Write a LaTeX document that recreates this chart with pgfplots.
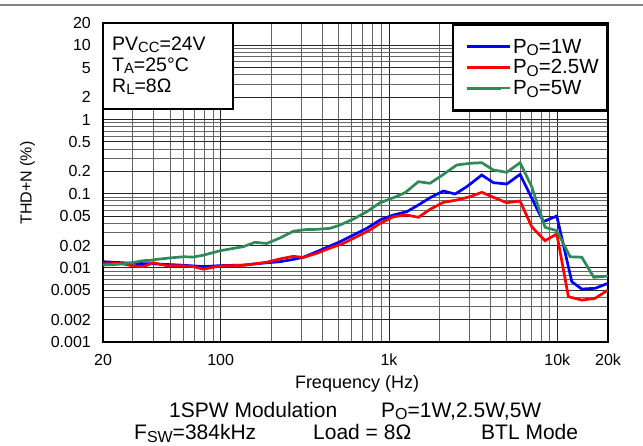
\documentclass[border=0pt]{standalone}
\usepackage{fontspec}
\setmainfont{Liberation Sans}
\usepackage{graphicx}
\usepackage{pgfplots}
\pgfplotsset{compat=1.18}
\definecolor{cblue}{RGB}{0,0,255}
\definecolor{cred}{RGB}{255,0,0}
\definecolor{cgreen}{RGB}{46,139,87}
\newcommand\sub[1]{\raisebox{-0.25ex}{\scalebox{0.76}{#1}}}
\newcommand\subb[1]{\raisebox{-0.18ex}{\scalebox{0.76}{#1}}}
\newcommand\fs[1]{\fontsize{#1}{#1}\selectfont}

\pgfplotstableread{
f v
20 0.0121
30.3 0.0115
39.8 0.0113
57.4 0.0109
78.9 0.0104
99.1 0.0107
136.4 0.0109
187.8 0.0117
225.3 0.0121
270.3 0.0130
309.8 0.0139
372.3 0.0165
446.4 0.0197
511.7 0.0225
614 0.0277
738 0.0341
885 0.0442
1062 0.0516
1275 0.0571
1494 0.0703
1754 0.0882
2104 0.1086
2469 0.0989
2897 0.124
3558 0.1785
4169 0.1406
5008 0.135
6007 0.182
8260 0.0419
9926 0.0500
12190 0.0065
13970 0.00518
16770 0.0053
20000 0.00618
}\blue

\pgfplotstableread{
f v
20 0.0113
25.2 0.0115
30.3 0.0106
34.7 0.0104
39.8 0.0117
47.8 0.0107
57.4 0.0107
68.8 0.0104
78.9 0.0096
99.1 0.0106
136.4 0.0108
187.8 0.0119
225.3 0.0132
270.3 0.0143
309.8 0.0138
372.3 0.0157
436 0.0181
535.6 0.0214
643 0.0263
772 0.0324
885 0.0398
1062 0.0489
1275 0.0516
1494 0.0480
1754 0.0615
2104 0.0764
2527 0.0821
3031 0.0910
3558 0.1043
4169 0.0893
5008 0.0755
6007 0.0796
7047 0.0358
8453 0.0232
9926 0.0286
11640 0.00408
13970 0.00368
16770 0.00388
20000 0.00502
}\red

\pgfplotstableread{
f v
20 0.0109
25.2 0.0112
30.3 0.0118
34.7 0.0125
38.0 0.0126
41.7 0.0130
50.0 0.0136
60.0 0.0141
68.8 0.0140
78.9 0.0148
99.1 0.0170
118.9 0.0183
136.4 0.0193
160 0.0221
187.8 0.0213
225.3 0.0253
270.3 0.0312
324.6 0.0329
372.3 0.0330
446.4 0.0341
511.7 0.0378
614 0.0455
738 0.0571
885 0.0755
1062 0.0882
1246 0.1030
1494 0.1450
1754 0.1379
2104 0.182
2527 0.2435
3031 0.2567
3558 0.2615
4169 0.2084
5008 0.1941
6007 0.2615
7047 0.124
8453 0.0352
9926 0.0317
11910 0.0141
13970 0.0139
16470 0.00745
20000 0.00776
}\green

\begin{document}
\begin{tikzpicture}
\useasboundingbox (0,0) rectangle (643pt,445pt);
\draw[black!50, line width=2pt] (0,440pt) -- (643pt,440pt);
\begin{axis}[
  at={(103pt,103pt)}, anchor=south west,
  scale only axis, width=505pt, height=319pt,
  xmode=log, ymode=log,
  xmin=20, xmax=20000, ymin=0.001, ymax=20,
  xtick={20,100,1000,10000,20000},
  xticklabels={20,100,1k,10k,20k},
  minor xtick={30,40,50,60,70,80,90,200,300,400,500,600,700,800,900,2000,3000,4000,5000,6000,7000,8000,9000},
  ytick={0.001,0.002,0.005,0.01,0.02,0.05,0.1,0.2,0.5,1,2,5,10,20},
  yticklabels={0.001,0.002,0.005,0.01,0.02,0.05,0.1,0.2,0.5,1,2,5,10,20},
  minor ytick={0.003,0.004,0.006,0.007,0.008,0.009,0.03,0.04,0.06,0.07,0.08,0.09,0.3,0.4,0.6,0.7,0.8,0.9,3,4,6,7,8,9},
  grid=both,
  major grid style={black!85, line width=0.9pt},
  minor grid style={black!60, line width=0.9pt},
  major tick length=0pt, minor tick length=0pt,
  axis line style={line width=2.5pt},
  tick label style={font=\fs{16}},
  xticklabel style={inner sep=0pt, anchor=north, yshift=-12pt},
  yticklabel style={inner sep=0pt, anchor=east, xshift=-12pt},
  xlabel={Frequency (Hz)},
  xlabel style={font=\fs{18}, at={(axis description cs:0.503,-0.147)}, anchor=base},
  ylabel={THD+N (\%)},
  ylabel style={font=\fs{16}, at={(axis description cs:-0.1495,0.498)}, anchor=center, rotate=0},
  legend style={draw=none, fill=none, at={(axis description cs:0.717,0.957)}, anchor=north west, inner sep=0pt, font=\fs{20.5}, row sep=1pt, legend cell align=left},
  legend image code/.code={\draw[#1, line width=2.8pt] (0pt,0pt) -- (34pt,0pt); \path (0pt,0pt) -- (43pt,0pt);},
]
\node[draw=black, line width=2.5pt, fill=white, anchor=north east, minimum width=154pt, minimum height=86pt, inner sep=0pt] at (rel axis cs:1,1) {};
\addplot[cblue, line width=2.7pt] table[x=f,y=v] {\blue};
\addlegendentry{P\sub{O}=1W}
\addplot[cred, line width=2.7pt] table[x=f,y=v] {\red};
\addlegendentry{P\sub{O}=2.5W}
\addplot[cgreen, line width=2.7pt] table[x=f,y=v] {\green};
\addlegendentry{P\sub{O}=5W}
\end{axis}
\draw[black, line width=2.5pt, fill=white] (103pt,422pt) rectangle (233pt,336pt);
\node[anchor=base west, inner sep=0pt, font=\fs{19.5}] at (112pt,394pt) {PV\subb{CC}=24V};
\node[anchor=base west, inner sep=0pt, font=\fs{19.5}] at (112pt,373.3pt) {T\subb{A}=25°C};
\node[anchor=base west, inner sep=0pt, font=\fs{19.5}] at (112pt,352.6pt) {R\subb{L}=8Ω};
\node[anchor=base west, inner sep=0pt, font=\fs{21}] at (169pt,28pt) {1SPW Modulation};
\node[anchor=base west, inner sep=0pt, font=\fs{21}] at (381pt,28pt) {P\sub{O}=1W,2.5W,5W};
\node[anchor=base west, inner sep=0pt, font=\fs{21}] at (134pt,5.5pt) {F\sub{SW}=384kHz};
\node[anchor=base west, inner sep=0pt, font=\fs{21}] at (313pt,5.5pt) {Load = 8Ω};
\node[anchor=base west, inner sep=0pt, font=\fs{21}] at (481pt,5.5pt) {BTL Mode};
\end{tikzpicture}
\end{document}
